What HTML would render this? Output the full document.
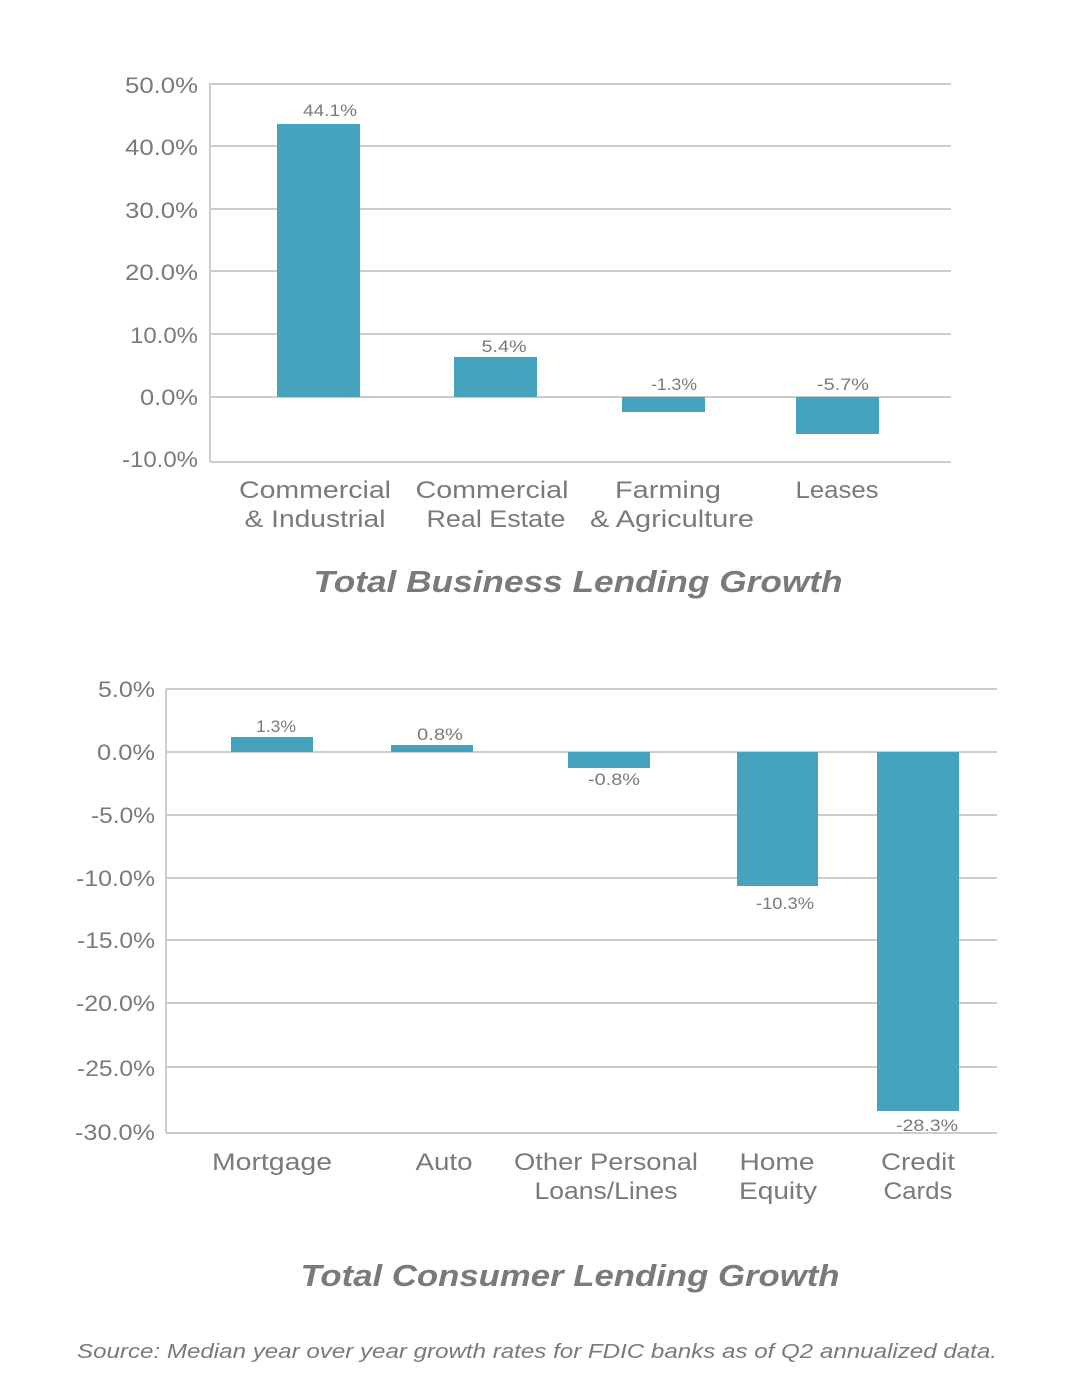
<!DOCTYPE html>
<html><head><meta charset="utf-8"><style>
html,body{margin:0;padding:0;background:#fff;}
svg{display:block;}
text{font-family:"Liberation Sans",sans-serif;fill:#7a7a7a;}
</style></head><body>
<svg width="1086" height="1398" viewBox="0 0 1086 1398" xmlns="http://www.w3.org/2000/svg">
<rect width="1086" height="1398" fill="#fff"/>
<g stroke="#cccccc" stroke-width="2">
<line x1="210" y1="84" x2="951" y2="84"/>
<line x1="210" y1="146" x2="951" y2="146"/>
<line x1="210" y1="209" x2="951" y2="209"/>
<line x1="210" y1="271" x2="951" y2="271"/>
<line x1="210" y1="334" x2="951" y2="334"/>
<line x1="210" y1="397" x2="951" y2="397"/>
<line x1="210" y1="462" x2="951" y2="462"/>
<line x1="210" y1="83" x2="210" y2="462"/>
</g>
<g font-size="22" text-anchor="end">
<text x="198" y="93" textLength="73" lengthAdjust="spacingAndGlyphs">50.0%</text>
<text x="198" y="155" textLength="73" lengthAdjust="spacingAndGlyphs">40.0%</text>
<text x="198" y="218" textLength="73" lengthAdjust="spacingAndGlyphs">30.0%</text>
<text x="198" y="280" textLength="73" lengthAdjust="spacingAndGlyphs">20.0%</text>
<text x="198" y="343" textLength="68" lengthAdjust="spacingAndGlyphs">10.0%</text>
<text x="198" y="405" textLength="58" lengthAdjust="spacingAndGlyphs">0.0%</text>
<text x="198" y="467" textLength="76" lengthAdjust="spacingAndGlyphs">-10.0%</text>
</g>
<g fill="#45a3bd">
<rect x="277" y="124" width="83" height="273"/>
<rect x="454" y="357" width="83" height="40"/>
<rect x="622" y="397" width="83" height="15"/>
<rect x="796" y="397" width="83" height="37"/>
</g>
<g font-size="17" text-anchor="middle">
<text x="330" y="116" textLength="54" lengthAdjust="spacingAndGlyphs">44.1%</text>
<text x="504" y="352" textLength="45" lengthAdjust="spacingAndGlyphs">5.4%</text>
<text x="674" y="390" textLength="46" lengthAdjust="spacingAndGlyphs">-1.3%</text>
<text x="843" y="390" textLength="52" lengthAdjust="spacingAndGlyphs">-5.7%</text>
</g>
<g font-size="24" text-anchor="middle">
<text x="315" y="498" textLength="152" lengthAdjust="spacingAndGlyphs">Commercial</text><text x="315" y="527" textLength="141" lengthAdjust="spacingAndGlyphs">&amp; Industrial</text>
<text x="492" y="498" textLength="153" lengthAdjust="spacingAndGlyphs">Commercial</text><text x="496" y="527" textLength="139" lengthAdjust="spacingAndGlyphs">Real Estate</text>
<text x="668" y="498" textLength="106" lengthAdjust="spacingAndGlyphs">Farming</text><text x="672" y="527" textLength="164" lengthAdjust="spacingAndGlyphs">&amp; Agriculture</text>
<text x="837" y="498" textLength="83" lengthAdjust="spacingAndGlyphs">Leases</text>
</g>
<text x="578" y="592" font-size="31" font-weight="bold" font-style="italic" text-anchor="middle" textLength="529" lengthAdjust="spacingAndGlyphs">Total Business Lending Growth</text>
<g stroke="#cccccc" stroke-width="2">
<line x1="166" y1="689" x2="997" y2="689"/>
<line x1="166" y1="752" x2="997" y2="752"/>
<line x1="166" y1="815" x2="997" y2="815"/>
<line x1="166" y1="878" x2="997" y2="878"/>
<line x1="166" y1="940" x2="997" y2="940"/>
<line x1="166" y1="1003" x2="997" y2="1003"/>
<line x1="166" y1="1067" x2="997" y2="1067"/>
<line x1="166" y1="1133" x2="997" y2="1133"/>
<line x1="166" y1="689" x2="166" y2="1133"/>
</g>
<g font-size="22" text-anchor="end">
<text x="155" y="697" textLength="57" lengthAdjust="spacingAndGlyphs">5.0%</text>
<text x="155" y="760" textLength="58" lengthAdjust="spacingAndGlyphs">0.0%</text>
<text x="155" y="823" textLength="64" lengthAdjust="spacingAndGlyphs">-5.0%</text>
<text x="155" y="886" textLength="79" lengthAdjust="spacingAndGlyphs">-10.0%</text>
<text x="155" y="948" textLength="78" lengthAdjust="spacingAndGlyphs">-15.0%</text>
<text x="155" y="1011" textLength="79" lengthAdjust="spacingAndGlyphs">-20.0%</text>
<text x="155" y="1076" textLength="78" lengthAdjust="spacingAndGlyphs">-25.0%</text>
<text x="155" y="1140" textLength="80" lengthAdjust="spacingAndGlyphs">-30.0%</text>
</g>
<g fill="#45a3bd">
<rect x="231" y="737" width="82" height="15"/>
<rect x="391" y="745" width="82" height="7"/>
<rect x="568" y="752" width="82" height="16"/>
<rect x="737" y="752" width="81" height="134"/>
<rect x="877" y="752" width="82" height="359"/>
</g>
<g font-size="17" text-anchor="middle">
<text x="276" y="732" textLength="40" lengthAdjust="spacingAndGlyphs">1.3%</text>
<text x="440" y="740" textLength="46" lengthAdjust="spacingAndGlyphs">0.8%</text>
<text x="614" y="785" textLength="52" lengthAdjust="spacingAndGlyphs">-0.8%</text>
<text x="785" y="909" textLength="58" lengthAdjust="spacingAndGlyphs">-10.3%</text>
<text x="927" y="1131" textLength="62" lengthAdjust="spacingAndGlyphs">-28.3%</text>
</g>
<g font-size="24" text-anchor="middle">
<text x="272" y="1170" textLength="120" lengthAdjust="spacingAndGlyphs">Mortgage</text>
<text x="444" y="1170" textLength="57" lengthAdjust="spacingAndGlyphs">Auto</text>
<text x="606" y="1170" textLength="184" lengthAdjust="spacingAndGlyphs">Other Personal</text><text x="606" y="1199" textLength="143" lengthAdjust="spacingAndGlyphs">Loans/Lines</text>
<text x="777" y="1170" textLength="75" lengthAdjust="spacingAndGlyphs">Home</text><text x="778" y="1199" textLength="78" lengthAdjust="spacingAndGlyphs">Equity</text>
<text x="918" y="1170" textLength="74" lengthAdjust="spacingAndGlyphs">Credit</text><text x="918" y="1199" textLength="69" lengthAdjust="spacingAndGlyphs">Cards</text>
</g>
<text x="570" y="1286" font-size="31" font-weight="bold" font-style="italic" text-anchor="middle" textLength="539" lengthAdjust="spacingAndGlyphs">Total Consumer Lending Growth</text>
<text x="537" y="1358" font-size="20" font-style="italic" text-anchor="middle" fill="#999" textLength="920" lengthAdjust="spacingAndGlyphs">Source: Median year over year growth rates for FDIC banks as of Q2 annualized data.</text>
</svg>
</body></html>
